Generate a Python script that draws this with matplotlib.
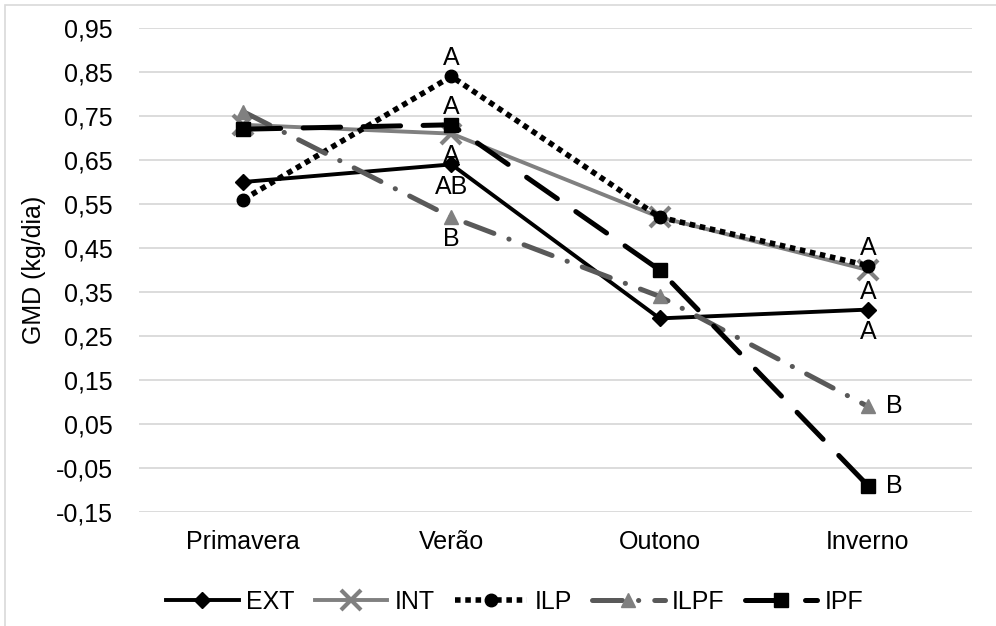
import matplotlib
matplotlib.use("Agg")
import matplotlib.pyplot as plt  # noqa: E402
from matplotlib.patches import Rectangle  # noqa: E402
from matplotlib.ticker import FuncFormatter  # noqa: E402

plt.rcParams["font.family"] = ["Liberation Sans", "DejaVu Sans"]

seasons = ["Primavera", "Verão", "Outono", "Inverno"]

ext = [0.60, 0.64, 0.29, 0.31]
int_ = [0.73, 0.71, 0.52, 0.40]
ilp = [0.56, 0.84, 0.52, 0.41]
ilpf = [0.76, 0.52, 0.34, 0.09]
ipf = [0.72, 0.73, 0.40, -0.09]

# significance letters per season, and where each one sits relative to its point
ext_letters = ["", "AB", "", "A"]
int_letters = ["", "A", "", "A"]
ilp_letters = ["", "A", "", "A"]
ilpf_letters = ["", "B", "", "B"]
ipf_letters = ["", "A", "", "B"]
ext_where = ["", "below", "", "below"]
int_where = ["", "below", "", "below"]
ilp_where = ["", "above", "", "above"]
ilpf_where = ["", "below", "", "right"]
ipf_where = ["", "above", "", "right"]

yticks = [0.95, 0.85, 0.75, 0.65, 0.55, 0.45, 0.35, 0.25, 0.15, 0.05, -0.05, -0.15]

FS = 18

fig = plt.figure(figsize=(9.96, 6.26), dpi=100)
ax = fig.add_axes([139 / 996, 1 - 512 / 626, (972 - 139) / 996, (512 - 28) / 626])

x = list(range(len(seasons)))
styles = [
    ("EXT", ext, dict(color="black", lw=2.8, ls="-", marker="D", ms=8,
                      mfc="black", mec="black")),
    ("INT", int_, dict(color="#808080", lw=2.8, ls="-", marker="x", ms=14,
                       mew=3, mec="#808080")),
    ("ILP", ilp, dict(color="black", lw=4, ls=(0, (1, 0.85)), marker="o",
                      ms=9, mfc="black", mec="black", dash_capstyle="butt")),
    ("ILPF", ilpf, dict(color="#595959", lw=3.6, ls=(0, (6, 3.2, 0.05, 3.2)),
                        marker="^", ms=10.5, mfc="#808080", mec="#808080",
                        dash_capstyle="round")),
    ("IPF", ipf, dict(color="black", lw=3.6, ls=(0, (7.5, 4.5)), marker="s",
                      ms=9.5, mfc="black", mec="black", dash_capstyle="round")),
]
for name, vals, kw in styles:
    ax.plot(x, vals, label=name, zorder=3, **kw)

offsets = {"above": (0, 13, "center"), "below": (0, -16, "center"),
           "right": (13, 0, "left")}
for vals, letters, where in [(ext, ext_letters, ext_where),
                             (int_, int_letters, int_where),
                             (ilp, ilp_letters, ilp_where),
                             (ilpf, ilpf_letters, ilpf_where),
                             (ipf, ipf_letters, ipf_where)]:
    for i, (lt, w) in enumerate(zip(letters, where)):
        if not lt:
            continue
        dx, dy, ha = offsets[w]
        ax.annotate(lt, (x[i], vals[i]), xytext=(dx, dy),
                    textcoords="offset points", ha=ha, va="center",
                    fontsize=FS, zorder=4)

ax.set_xlim(-0.5, len(seasons) - 0.5)
ax.set_ylim(-0.15, 0.95)
ax.set_yticks(yticks)
ax.yaxis.set_major_formatter(FuncFormatter(lambda v, _: f"{v:.2f}".replace(".", ",")))
ax.set_xticks(x)
ax.set_xticklabels(seasons)
ax.tick_params(axis="both", length=0, labelsize=FS)
ax.tick_params(axis="y", pad=19)
ax.tick_params(axis="x", pad=13)
ax.grid(axis="y", color="#d9d9d9", lw=1.3)
ax.set_axisbelow(True)
for s in ax.spines.values():
    s.set_visible(False)
ax.set_ylabel("GMD (kg/dia)", fontsize=FS, labelpad=7)

fig.legend(loc="center", bbox_to_anchor=(0.517, 1 - 602 / 626), ncol=5,
           frameon=False, fontsize=FS, handlelength=2.9, handletextpad=0.3,
           columnspacing=0.8, numpoints=1)

# chart-area border
fig.patches.append(Rectangle((5 / 996, -0.1), 1.2, 1 - 5 / 626 + 0.1,
                             transform=fig.transFigure, fill=False,
                             ec="#d9d9d9", lw=1.2))

fig.savefig("out.png", dpi=100)
plt.close(fig)
